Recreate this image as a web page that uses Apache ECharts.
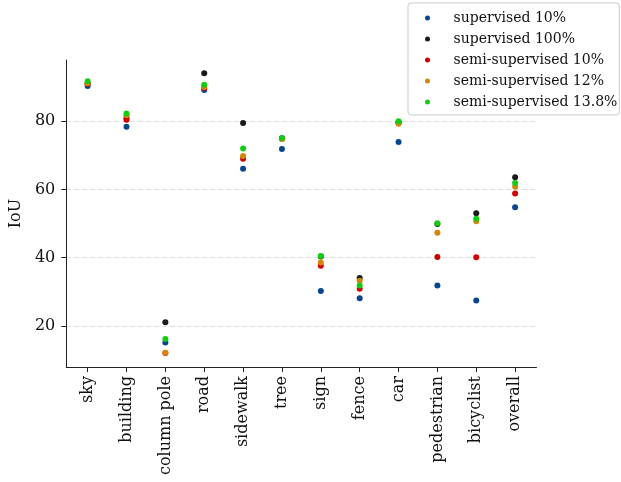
<!DOCTYPE html>
<html>
<head>
<meta charset="utf-8">
<script src="https://cdn.jsdelivr.net/npm/echarts@6/dist/echarts.min.js"></script>
<style>
  html, body { margin: 0; padding: 0; background: #fff; }
  #chart { width: 621px; height: 482px; }
</style>
</head>
<body>
<div id="chart"></div>
<script>
// classes along the x axis
const categories = ["sky", "building", "column pole", "road", "sidewalk", "tree",
  "sign", "fence", "car", "pedestrian", "bicyclist", "overall"];
const yTicks = [20, 40, 60, 80];

// IoU per class
const supervised10 = [90.4, 78.4, 15.1, 89.2, 66.1, 71.9, 30.2, 28.1, 73.9, 31.8, 27.4, 54.8];
const supervised100 = [91.0, 81.0, 21.0, 94.1, 79.5, 75.0, 40.3, 34.0, 79.7, 49.9, 53.0, 63.6];
const semi10 = [91.0, 80.5, 12.0, 89.8, 69.0, 74.9, 37.6, 30.9, 79.6, 40.2, 40.1, 58.8];
const semi12 = [91.2, 81.8, 12.1, 90.1, 69.8, 74.8, 38.6, 33.2, 79.3, 47.3, 50.7, 60.8];
const semi138 = [91.8, 82.3, 16.1, 90.7, 72.0, 75.1, 40.5, 31.8, 80.0, 50.1, 51.4, 61.9];

const seriesNames = ["supervised 10%", "supervised 100%", "semi-supervised 10%",
  "semi-supervised 12%", "semi-supervised 13.8%"];
const seriesData = [supervised10, supervised100, semi10, semi12, semi138];
const colors = ["#08468c", "#1a1a1a", "#d10000", "#d4860b", "#12cc12"];

const font = "DejaVu Serif";
const chart = echarts.init(document.getElementById("chart"), null, { renderer: "canvas" });

chart.setOption({
  animation: false,
  backgroundColor: "#fff",
  color: colors,
  grid: { left: 64.5, right: 84.5, top: 60, bottom: 115 },
  legend: {
    orient: "vertical",
    left: 408,
    top: 3,
    padding: [7, 2, 5, 17],
    itemWidth: 30,
    itemHeight: 5,
    itemGap: 5,
    icon: "circle",
    borderColor: "#cccccc",
    borderWidth: 1,
    borderRadius: 3,
    backgroundColor: "#fff",
    itemStyle: { opacity: 1 },
    textStyle: { fontFamily: font, fontSize: 14, lineHeight: 16, color: "#111", padding: [0, 0, 0, 6] },
    data: seriesNames,
  },
  xAxis: {
    type: "value",
    min: -0.55,
    max: 11.55,
    splitLine: { show: false },
    axisLine: { show: true, onZero: false, lineStyle: { color: "#222", width: 1 } },
    axisTick: {
      show: true,
      length: 5,
      customValues: categories.map((c, i) => i),
      lineStyle: { color: "#222" },
    },
    axisLabel: {
      customValues: categories.map((c, i) => i),
      formatter: (v) => categories[Math.round(v)],
      rotate: 90,
      margin: 9,
      fontFamily: font,
      fontSize: 16,
      color: "#111",
    },
  },
  yAxis: {
    type: "value",
    min: 7.9,
    max: 98.0,
    name: "IoU",
    nameLocation: "middle",
    nameGap: 40,
    nameTextStyle: { fontFamily: font, fontSize: 16, color: "#111" },
    axisLine: { show: true, onZero: false, lineStyle: { color: "#222", width: 1 } },
    axisTick: { show: true, length: 5, customValues: yTicks, lineStyle: { color: "#222" } },
    axisLabel: {
      customValues: yTicks,
      margin: 11,
      fontFamily: font,
      fontSize: 16,
      color: "#111",
    },
    splitLine: {
      show: true,
      lineStyle: { color: "#dddddd", type: [5, 3], width: 1 },
    },
  },
  series: seriesNames.map((name, k) => ({
    name: name,
    type: "scatter",
    symbolSize: 6,
    itemStyle: { opacity: 1 },
    data: seriesData[k].map((v, i) => [i, v]),
  })),
});
</script>
</body>
</html>
